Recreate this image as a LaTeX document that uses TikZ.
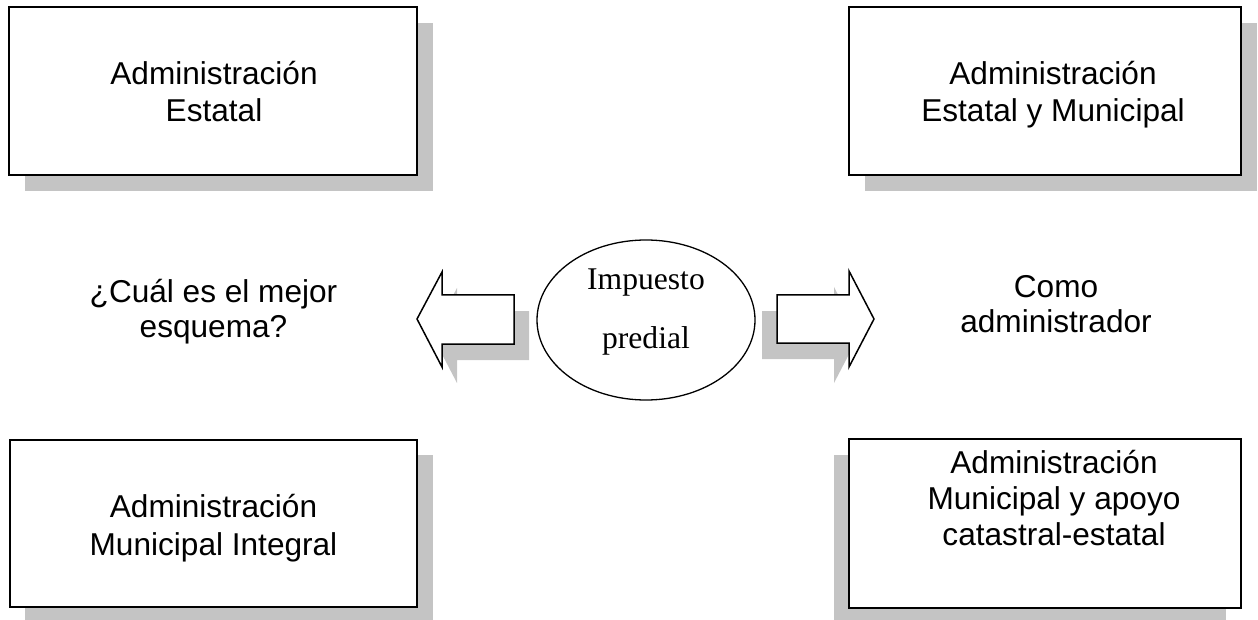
\documentclass[tikz,border=0pt]{standalone}
\usepackage{fontspec}
\usetikzlibrary{shapes.geometric}
\setmainfont{Liberation Sans}
\newfontfamily\serifface{Liberation Serif}
\definecolor{shadowgray}{RGB}{196,196,196}
% centred stack of lines, first baseline at the node's base, line pitch #1
\newcommand\linestack[2]{\fontsize{31.6}{#1}\selectfont\begin{tabular}[t]{@{}c@{}}#2\end{tabular}}

\begin{document}
\begin{tikzpicture}[x=1pt,y=-1pt,
  panel/.style={draw=black, line width=2pt, fill=white},
  shade/.style={fill=shadowgray, draw=none},
  blockarrow/.style={draw=black, line width=1.5pt, fill=white, line join=miter},
  txt/.style={inner sep=0pt, anchor=base},
]
\useasboundingbox (0,0) rectangle (1258,620);

% ---- drop shadows of the four panels
\fill[shade] (25,23) rectangle (433,191);
\fill[shade] (865,23) rectangle (1257,191);
\fill[shade] (25,455) rectangle (433,624);
\fill[shade] (834,455) rectangle (1226,624);

% ---- panels
\node[panel, minimum width=408pt, minimum height=168pt, inner sep=0pt] (boxTL) at (213,91) {};
\node[panel, minimum width=392pt, minimum height=168pt, inner sep=0pt] (boxTR) at (1045,91) {};
\node[panel, minimum width=407pt, minimum height=167pt, inner sep=0pt] (boxBL) at (213.5,523.5) {};
\node[panel, minimum width=392pt, minimum height=169pt, inner sep=0pt] (boxBR) at (1045,523.5) {};

% ---- panel texts
\node[txt] (txtTL) at (214,85) {\linestack{37}{Administración\\Estatal}};
\node[txt] (txtTR) at (1053,85) {\linestack{37}{Administración\\Estatal y Municipal}};
\node[txt] (txtBL) at (213.5,517) {\linestack{38}{Administración\\Municipal Integral}};
\node[txt] (txtBR) at (1054,473) {\linestack{36}{Administración\\Municipal y apoyo\\catastral-estatal}};

% ---- side questions
\node[txt] (txtL) at (213.5,302) {\linestack{35}{¿Cuál es el mejor\\esquema?}};
\node[txt] (txtR) at (1056,298) {\linestack{35}{Como\\administrador}};

% ---- block arrows: shadows, then outlines
\fill[shade] (432,335) -- (457,288) -- (457,311) -- (529,311) -- (529,360) -- (457,360) -- (457,383) -- cycle;
\fill[shade] (762,311) -- (834,311) -- (834,287) -- (859,335) -- (834,383) -- (834,359) -- (762,359) -- cycle;
\draw[blockarrow] (417,319) -- (442,272) -- (442,295) -- (514,295) -- (514,344) -- (442,344) -- (442,367) -- cycle;
\draw[blockarrow] (777,295) -- (849,295) -- (849,271) -- (874,319) -- (849,367) -- (849,343) -- (777,343) -- cycle;

% ---- central ellipse
\node[draw=black, line width=1.3pt, fill=white, ellipse, minimum width=218pt, minimum height=160pt, inner sep=0pt] (tax) at (646,320) {};
\node[txt] (taxText) at (646,290) {\serifface\linestack{59}{Impuesto\\predial}};
\end{tikzpicture}
\end{document}
